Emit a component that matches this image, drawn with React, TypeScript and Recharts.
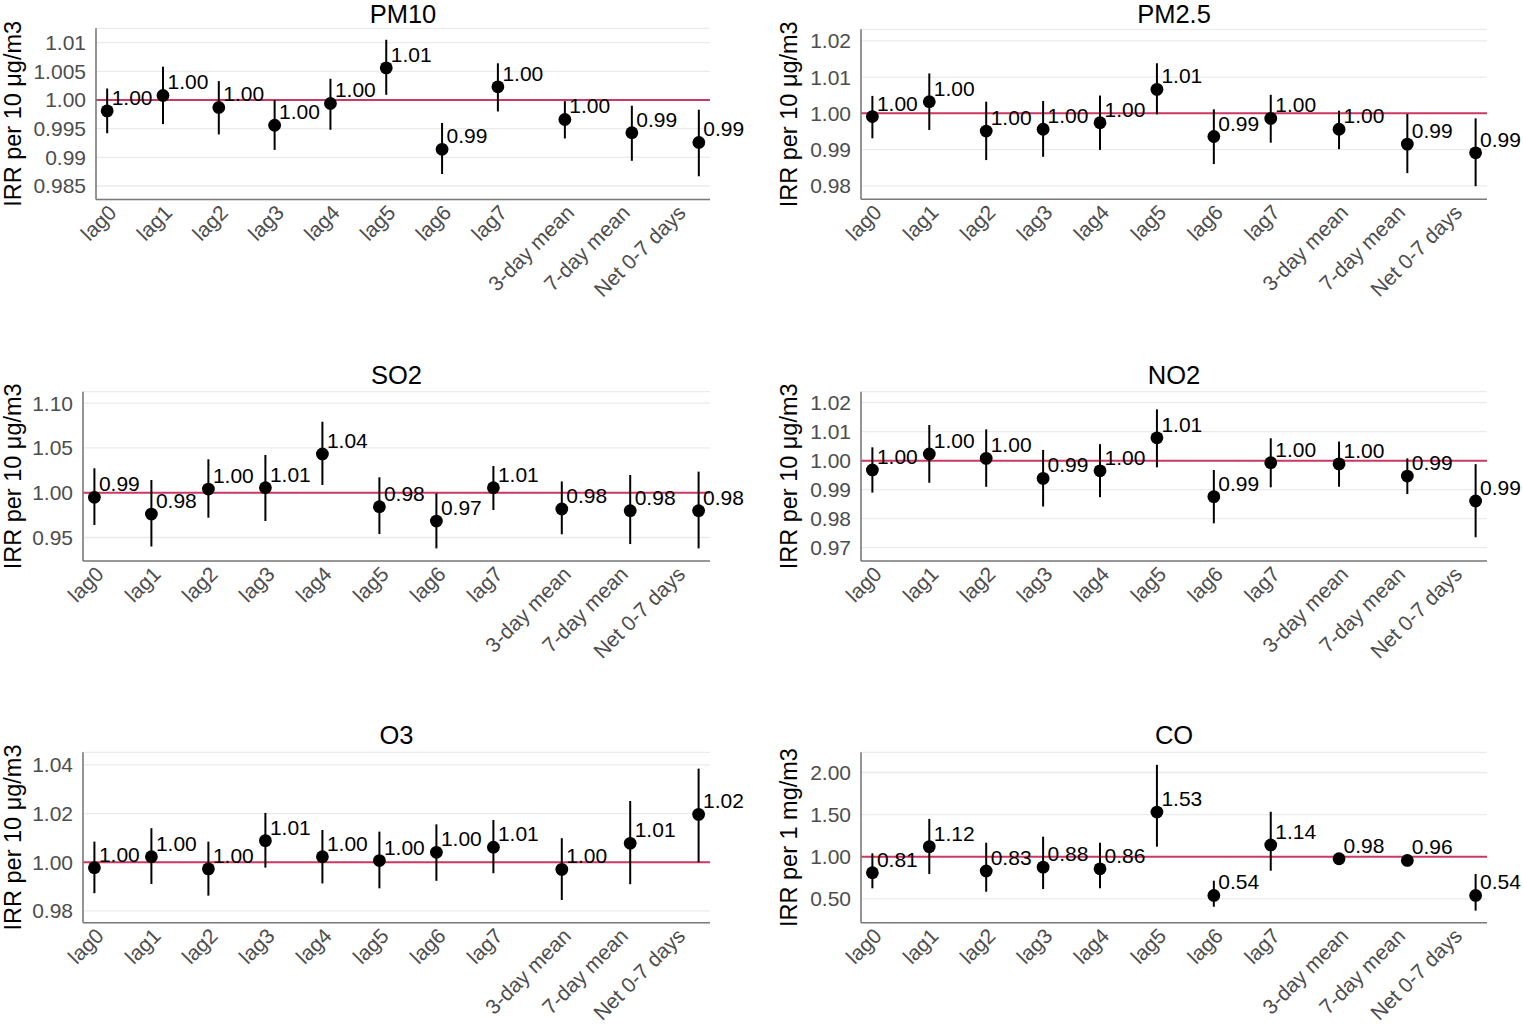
import React from 'react';
import { ComposedChart, Scatter, XAxis, YAxis, CartesianGrid, ReferenceLine, ErrorBar } from 'recharts';

// ---------- data ----------
const categories = ['lag0', 'lag1', 'lag2', 'lag3', 'lag4', 'lag5', 'lag6', 'lag7', '3-day mean', '7-day mean', 'Net 0-7 days'];
const xPositions = [0, 1, 2, 3, 4, 5, 6, 7, 8.2, 9.4, 10.6];
const xTickPositions = [0, 1, 2, 3, 4, 5, 6, 7, 8.2, 9.2, 10.2];

const pm10Est = [0.9981, 1.0008, 0.9987, 0.9956, 0.9994, 1.0056, 0.9914, 1.0023, 0.9966, 0.9943, 0.9926];
const pm10Low = [0.9942, 0.9958, 0.994, 0.9913, 0.9948, 1.0009, 0.9871, 0.998, 0.9933, 0.9894, 0.9867];
const pm10High = [1.002, 1.0058, 1.0033, 1.0, 1.0037, 1.0105, 0.996, 1.0064, 0.9998, 0.999, 0.9983];
const pm10Ticks = [0.985, 0.99, 0.995, 1.0, 1.005, 1.01];
const pm10TickLabels = ['0.985', '0.99', '0.995', '1.00', '1.005', '1.01'];

const pm25Est = [0.9991, 1.0032, 0.9951, 0.9956, 0.9974, 1.0066, 0.9936, 0.9986, 0.9956, 0.9915, 0.9891];
const pm25Low = [0.9931, 0.9954, 0.9871, 0.988, 0.9899, 0.9997, 0.986, 0.9919, 0.9901, 0.9835, 0.9799];
const pm25High = [1.0048, 1.011, 1.0032, 1.0034, 1.0049, 1.0138, 1.0011, 1.0051, 1.0007, 0.9998, 0.9986];
const pm25Ticks = [0.98, 0.99, 1.0, 1.01, 1.02];
const pm25TickLabels = ['0.98', '0.99', '1.00', '1.01', '1.02'];

const so2Est = [0.9949, 0.9762, 1.0041, 1.0056, 1.0432, 0.9844, 0.9684, 1.0056, 0.9818, 0.9799, 0.9799];
const so2Low = [0.964, 0.94, 0.9721, 0.9684, 1.0086, 0.9538, 0.9379, 0.9807, 0.9536, 0.9427, 0.9379];
const so2High = [1.0272, 1.0142, 1.0373, 1.0421, 1.0792, 1.0172, 0.9993, 1.0298, 1.0126, 1.0198, 1.0235];
const so2Ticks = [0.95, 1.0, 1.05, 1.1];
const so2TickLabels = ['0.95', '1.00', '1.05', '1.10'];

const no2Est = [0.9968, 1.0023, 1.0008, 0.9939, 0.9965, 1.0079, 0.9876, 0.9993, 0.9989, 0.9947, 0.9861];
const no2Low = [0.989, 0.9924, 0.991, 0.9842, 0.9874, 0.9977, 0.9784, 0.9908, 0.991, 0.9885, 0.9736];
const no2High = [1.0046, 1.0123, 1.0108, 1.0037, 1.0057, 1.0177, 0.9968, 1.0077, 1.0066, 1.0008, 0.9988];
const no2Ticks = [0.97, 0.98, 0.99, 1.0, 1.01, 1.02];
const no2TickLabels = ['0.97', '0.98', '0.99', '1.00', '1.01', '1.02'];

const o3Est = [0.9978, 1.0023, 0.9973, 1.0089, 1.0023, 1.0007, 1.0041, 1.0062, 0.9971, 1.0078, 1.0197];
const o3Low = [0.9873, 0.9911, 0.9863, 0.9978, 0.9913, 0.9893, 0.9924, 0.9955, 0.9845, 0.991, 1.0];
const o3High = [1.0085, 1.014, 1.0085, 1.0203, 1.0133, 1.0126, 1.0156, 1.0174, 1.0099, 1.0252, 1.0385];
const o3Ticks = [0.98, 1.0, 1.02, 1.04];
const o3TickLabels = ['0.98', '1.00', '1.02', '1.04'];

const coEst = [0.81, 1.12, 0.83, 0.876, 0.856, 1.53, 0.54, 1.14, 0.976, 0.956, 0.54];
const coLow = [0.625, 0.794, 0.584, 0.616, 0.625, 1.119, 0.406, 0.834, 0.95, 0.93, 0.36];
const coHigh = [1.04, 1.449, 1.166, 1.238, 1.166, 2.091, 0.715, 1.534, 1.0, 0.98, 0.794];
const coTicks = [0.5, 1.0, 1.5, 2.0];
const coTickLabels = ['0.50', '1.00', '1.50', '2.00'];

// ---------- styles / layout ----------
const FONT = '"Liberation Sans", Arial, Helvetica, sans-serif';
const RED = '#CC3862';
const AXIS_GRAY = '#7a7a7a';
const TICK_COLOR = '#4D4D4D';
const GRID = '#EBEBEB';
const X_DOMAIN: [number, number] = [-0.2, 10.8];
const X_AXIS_HEIGHT = 95;
const TICK_FONT = 21;
const LABEL_FONT = 21;
const TITLE_FONT = 25.5;
const YTITLE_FONT = 23.5;

type Layout = {
  chartLeft: number; chartTop: number; chartWidth: number; chartHeight: number;
  plotLeft: number; plotRight: number; plotTop: number; plotBottom: number;
  titleBaseline: number; yTitleX: number;
};

type Panel = {
  title: string; yTitle: string;
  est: number[]; low: number[]; high: number[];
  ticks: number[]; tickLabels: string[];
  domain: [number, number];
  layout: Layout;
};

const panels: Panel[] = [
  {
    title: 'PM10', yTitle: 'IRR per 10 μg/m3', est: pm10Est, low: pm10Low, high: pm10High,
    ticks: pm10Ticks, tickLabels: pm10TickLabels, domain: [0.98265, 1.0125],
    layout: { chartLeft: 0, chartTop: 0, chartWidth: 761, chartHeight: 361, plotLeft: 96, plotRight: 710, plotTop: 28.3, plotBottom: 199.5, titleBaseline: 22.5, yTitleX: 21 },
  },
  {
    title: 'PM2.5', yTitle: 'IRR per 10 μg/m3', est: pm25Est, low: pm25Low, high: pm25High,
    ticks: pm25Ticks, tickLabels: pm25TickLabels, domain: [0.97628, 1.02317],
    layout: { chartLeft: 761, chartTop: 0, chartWidth: 762, chartHeight: 361, plotLeft: 861, plotRight: 1487, plotTop: 29.3, plotBottom: 199.3, titleBaseline: 22.5, yTitleX: 797 },
  },
  {
    title: 'SO2', yTitle: 'IRR per 10 μg/m3', est: so2Est, low: so2Low, high: so2High,
    ticks: so2Ticks, tickLabels: so2TickLabels, domain: [0.9238, 1.1127],
    layout: { chartLeft: 0, chartTop: 361, chartWidth: 761, chartHeight: 361, plotLeft: 83, plotRight: 710, plotTop: 391.7, plotBottom: 561, titleBaseline: 383.5, yTitleX: 21 },
  },
  {
    title: 'NO2', yTitle: 'IRR per 10 μg/m3', est: no2Est, low: no2Low, high: no2High,
    ticks: no2Ticks, tickLabels: no2TickLabels, domain: [0.96541, 1.02379],
    layout: { chartLeft: 761, chartTop: 361, chartWidth: 762, chartHeight: 361, plotLeft: 861, plotRight: 1487, plotTop: 391.7, plotBottom: 561, titleBaseline: 383.5, yTitleX: 797 },
  },
  {
    title: 'O3', yTitle: 'IRR per 10 μg/m3', est: o3Est, low: o3Low, high: o3High,
    ticks: o3Ticks, tickLabels: o3TickLabels, domain: [0.97518, 1.0452],
    layout: { chartLeft: 0, chartTop: 722, chartWidth: 761, chartHeight: 302, plotLeft: 83, plotRight: 710, plotTop: 752.3, plotBottom: 922.7, titleBaseline: 744, yTitleX: 21 },
  },
  {
    title: 'CO', yTitle: 'IRR per 1 mg/m3', est: coEst, low: coLow, high: coHigh,
    ticks: coTicks, tickLabels: coTickLabels, domain: [0.2162, 2.24],
    layout: { chartLeft: 761, chartTop: 722, chartWidth: 762, chartHeight: 302, plotLeft: 861, plotRight: 1487, plotTop: 752.3, plotBottom: 922.7, titleBaseline: 744, yTitleX: 797 },
  },
];

function nearestIndex(arr: number[], v: number) {
  let best = 0;
  for (let i = 1; i < arr.length; i++) if (Math.abs(arr[i] - v) < Math.abs(arr[best] - v)) best = i;
  return best;
}

const XTick = (props: any) => {
  const { x, y, payload } = props;
  const label = categories[nearestIndex(xTickPositions, payload.value)];
  return (
    <text x={x} y={y} dy="0.71em" textAnchor="end" transform={`rotate(-45 ${x} ${y})`}
      fontSize={TICK_FONT} fill={TICK_COLOR} fontFamily={FONT}>
      {label}
    </text>
  );
};

const makeYTick = (ticks: number[], labels: string[]) => (props: any) => {
  const { x, y, payload } = props;
  const label = labels[nearestIndex(ticks, payload.value)];
  return (
    <text x={x} y={y} dy="0.355em" textAnchor="end" fontSize={TICK_FONT} fill={TICK_COLOR} fontFamily={FONT}>
      {label}
    </text>
  );
};

const renderPoint = (props: any) => {
  const { cx, cy, payload } = props;
  if (cx == null || cy == null) return <g />;
  return (
    <g>
      <circle cx={cx} cy={cy} r={6.4} fill="#000" />
      <text x={cx + 4.5} y={cy - 6} fontSize={LABEL_FONT} fill="#000" fontFamily={FONT} textAnchor="start">
        {payload.label}
      </text>
    </g>
  );
};

function PanelChart({ p }: { p: Panel }) {
  const L = p.layout;
  const data = categories.map((c, i) => ({
    name: c,
    x: xPositions[i],
    y: p.est[i],
    err: [p.est[i] - p.low[i], p.high[i] - p.est[i]],
    label: p.est[i].toFixed(2),
  }));
  const margin = {
    top: L.plotTop - L.chartTop,
    right: L.chartLeft + L.chartWidth - L.plotRight,
    bottom: L.chartTop + L.chartHeight - L.plotBottom - X_AXIS_HEIGHT,
    left: 0,
  };
  const YTick = makeYTick(p.ticks, p.tickLabels);
  return (
    <div style={{ position: 'absolute', left: L.chartLeft, top: L.chartTop }}>
      <ComposedChart width={L.chartWidth} height={L.chartHeight} margin={margin}>
        <CartesianGrid vertical={false} stroke={GRID} strokeWidth={1.3} />
        <XAxis type="number" dataKey="x" domain={X_DOMAIN} ticks={xTickPositions} interval={0}
          height={X_AXIS_HEIGHT} tickLine={false} tickSize={0} tickMargin={4}
          axisLine={{ stroke: AXIS_GRAY, strokeWidth: 1.6 }} tick={<XTick />} />
        <YAxis type="number" dataKey="y" domain={p.domain} ticks={p.ticks} interval={0}
          width={L.plotLeft - L.chartLeft} tickLine={false} tickSize={0} tickMargin={10}
          axisLine={{ stroke: AXIS_GRAY, strokeWidth: 1.6 }} tick={<YTick />} />
        <ReferenceLine y={1} stroke={RED} strokeWidth={2} />
        <Scatter data={data} dataKey="y" isAnimationActive={false} shape={renderPoint} fill="#000">
          <ErrorBar dataKey="err" direction="y" width={0} stroke="#000" strokeWidth={2} isAnimationActive={false} />
        </Scatter>
      </ComposedChart>
    </div>
  );
}

export default function App() {
  return (
    <div style={{ position: 'absolute', left: 0, top: 0, width: 1523, height: 1024, background: '#fff', overflow: 'hidden', fontFamily: FONT }}>
      {panels.map((p) => (
        <PanelChart key={p.title} p={p} />
      ))}
      <svg width={1523} height={1024} style={{ position: 'absolute', left: 0, top: 0, pointerEvents: 'none' }}>
        {panels.map((p) => {
          const L = p.layout;
          const cxTitle = (L.plotLeft + L.plotRight) / 2;
          const cyMid = (L.plotTop + L.plotBottom) / 2;
          return (
            <g key={p.title}>
              <text x={cxTitle} y={L.titleBaseline} textAnchor="middle" fontSize={TITLE_FONT} fill="#000" fontFamily={FONT}>
                {p.title}
              </text>
              <text x={L.yTitleX} y={cyMid} textAnchor="middle" fontSize={YTITLE_FONT} fill="#000" fontFamily={FONT}
                transform={`rotate(-90 ${L.yTitleX} ${cyMid})`}>
                {p.yTitle}
              </text>
            </g>
          );
        })}
      </svg>
    </div>
  );
}
